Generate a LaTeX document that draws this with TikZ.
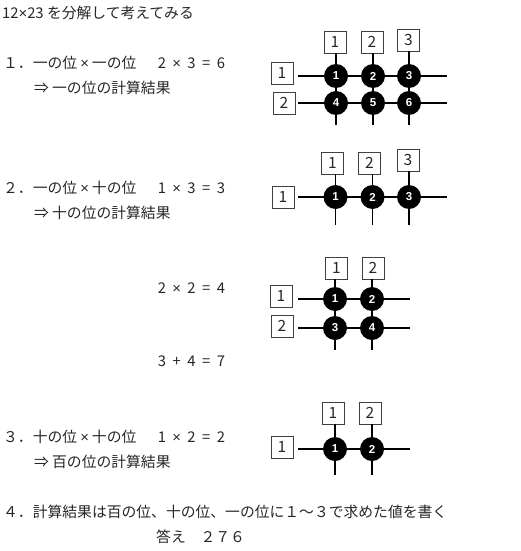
\documentclass[tikz,border=0pt]{standalone}
\usepackage{fontspec}
\setmainfont{Noto Sans CJK JP}
\newfontfamily\dotfont{Liberation Sans}
\newcommand{\tms}{{\dotfont ×}}
\newcommand{\hw}[1]{\makebox[7.4pt]{#1}}
\newcommand{\eqn}[4]{\hw{#1}\hw{}\hw{#2}\hw{}\hw{#3}\hw{}\hw{=}\hw{}\hw{#4}}
\newcommand{\fw}[1]{\makebox[14.8pt]{#1}}
\tikzset{
  txt/.style={anchor=west, inner sep=0pt, text=black!85, font=\fontsize{14.8}{17}\selectfont},
  lbl/.style={draw=black!75, line width=0.9pt, minimum size=22pt, inner sep=0pt, text=black!85, font=\fontsize{15.5}{17}\selectfont},
  dot/.style={circle, fill=black, minimum size=24pt, inner sep=0pt, text=white, font=\dotfont\bfseries\fontsize{11.5}{12}\selectfont},
  grid/.style={line width=1.2pt, black}
}
\begin{document}
\begin{tikzpicture}[x=1pt,y=-1pt]
\useasboundingbox (0,0) rectangle (520,551);
% texts
\node[txt] (title) at (2,13) {12\tms 23 を分解して考えてみる};
\node[txt] (s1a) at (3,63) {１．一の位\fw{\tms}一の位};
\node[txt] (s1b) at (158,63) {\eqn{2}{\tms}{3}{6}};
\node[txt] (s1c) at (34,88) {\makebox[18pt][l]{⇒}一の位の計算結果};
\node[txt] (s2a) at (3,188) {２．一の位\fw{\tms}十の位};
\node[txt] (s2b) at (158,188) {\eqn{1}{\tms}{3}{3}};
\node[txt] (s2c) at (34,213) {\makebox[18pt][l]{⇒}十の位の計算結果};
\node[txt] (e3) at (158,288) {\eqn{2}{\tms}{2}{4}};
\node[txt] (e4) at (158,361) {\eqn{3}{+}{4}{7}};
\node[txt] (s3a) at (3,437) {３．十の位\fw{\tms}十の位};
\node[txt] (s3b) at (158,437) {\eqn{1}{\tms}{2}{2}};
\node[txt] (s3c) at (34,462) {\makebox[18pt][l]{⇒}百の位の計算結果};
\node[txt] (s4) at (3,512) {４．計算結果は百の位、十の位、一の位に１～３で求めた値を書く};
\node[txt] (ans) at (156,537) {答え　２７６};

% ---- diagram 1
\node[lbl] (aT1) at (335,42) {1};
\node[lbl] (aT2) at (372,42) {2};
\node[lbl] (aT3) at (408.5,40) {3};
\node[lbl] (aL1) at (282,73) {1};
\node[lbl] (aL2) at (284,103) {2};
\coordinate (a1) at (336,76); \coordinate (a2) at (373,76); \coordinate (a3) at (409,76);
\coordinate (a4) at (336,103); \coordinate (a5) at (373,103); \coordinate (a6) at (409,103);
\coordinate (ah1) at (298,76); \coordinate (ah2) at (298,103);
\draw[grid] (ah1) -- (a3) -- ++(38,0);
\draw[grid] (ah2) -- (a6) -- ++(38,0);
\draw[grid] (a1 |- aT1.south) -- (a4) -- ++(0,22);
\draw[grid] (a2 |- aT2.south) -- (a5) -- ++(0,22);
\draw[grid] (a3 |- aT3.south) -- (a6) -- ++(0,22);
\node[dot] (ad1) at (a1) {1};
\node[dot] (ad2) at (a2) {2};
\node[dot] (ad3) at (a3) {3};
\node[dot] (ad4) at (a4) {4};
\node[dot] (ad5) at (a5) {5};
\node[dot] (ad6) at (a6) {6};

% ---- diagram 2
\node[lbl] (bT1) at (332.5,163) {1};
\node[lbl] (bT2) at (369.5,163) {2};
\node[lbl] (bT3) at (408,160) {3};
\node[lbl] (bL1) at (283,197) {1};
\coordinate (b1) at (335.5,197); \coordinate (b2) at (372.5,197); \coordinate (b3) at (409,197);
\coordinate (bh1) at (298,197);
\draw[grid] (bh1) -- (b3) -- ++(38,0);
\draw[grid] (b1 |- bT1.south) -- (b1) -- ++(0,28);
\draw[grid] (b2 |- bT2.south) -- (b2) -- ++(0,28);
\draw[grid] (b3 |- bT3.south) -- (b3) -- ++(0,28);
\node[dot] (bd1) at (b1) {1};
\node[dot] (bd2) at (b2) {2};
\node[dot] (bd3) at (b3) {3};

% ---- diagram 3
\node[lbl] (cT1) at (336.5,268) {1};
\node[lbl] (cT2) at (373,268) {2};
\node[lbl] (cL1) at (281,296) {1};
\node[lbl] (cL2) at (282,326) {2};
\coordinate (c1) at (335,299); \coordinate (c2) at (372,299);
\coordinate (c3) at (335,328); \coordinate (c4) at (372,328);
\coordinate (ch1) at (298,299); \coordinate (ch2) at (298,328);
\draw[grid] (ch1) -- (c2) -- ++(38,0);
\draw[grid] (ch2) -- (c4) -- ++(38,0);
\draw[grid] (c1 |- cT1.south) -- (c3) -- ++(0,22);
\draw[grid] (c2 |- cT2.south) -- (c4) -- ++(0,22);
\node[dot] (cd1) at (c1) {1};
\node[dot] (cd2) at (c2) {2};
\node[dot] (cd3) at (c3) {3};
\node[dot] (cd4) at (c4) {4};

% ---- diagram 4
\node[lbl] (dT1) at (333,413) {1};
\node[lbl] (dT2) at (370,413) {2};
\node[lbl] (dL1) at (282,447) {1};
\coordinate (d1) at (335,449); \coordinate (d2) at (372,449);
\coordinate (dh1) at (298,449);
\draw[grid] (dh1) -- (d2) -- ++(38,0);
\draw[grid] (d1 |- dT1.south) -- (d1) -- ++(0,26);
\draw[grid] (d2 |- dT2.south) -- (d2) -- ++(0,26);
\node[dot] (dd1) at (d1) {1};
\node[dot] (dd2) at (d2) {2};
\end{tikzpicture}
\end{document}
